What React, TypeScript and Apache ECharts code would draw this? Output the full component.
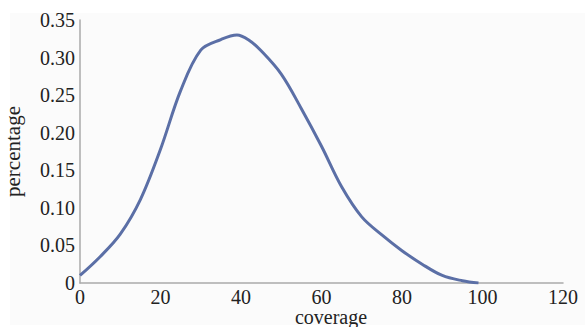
import React, { useEffect, useRef } from "react";
import * as echarts from "echarts";

const coverage = [0, 5, 10, 15, 20, 25, 30, 35, 39, 42, 45, 50, 55, 60, 65, 70, 75, 80, 85, 90, 95, 99];
const percentage = [0.010, 0.035, 0.065, 0.111, 0.178, 0.256, 0.310, 0.324, 0.330, 0.323, 0.309, 0.278, 0.232, 0.182, 0.128, 0.088, 0.064, 0.043, 0.025, 0.010, 0.003, 0.0];
const xTicks = [0, 20, 40, 60, 80, 100, 120];
const yTicks = [0, 0.05, 0.1, 0.15, 0.2, 0.25, 0.3, 0.35];
const xName = "coverage";
const yName = "percentage";

const FONT = "'Liberation Serif', 'Times New Roman', serif";

export default function App() {
  const ref = useRef<HTMLDivElement>(null);
  useEffect(() => {
    if (!ref.current) return;
    const chart = echarts.init(ref.current, undefined, { renderer: "svg" });
    const data = coverage.map((c, i) => [c, percentage[i]]);
    chart.setOption({
      animation: false,
      backgroundColor: "#ffffff",
      graphic: [
        {
          type: "rect",
          z: -10,
          silent: true,
          shape: { x: 10, y: 13, width: 575, height: 312 },
          style: { fill: "#fbfbfb" },
        },
        {
          type: "text",
          silent: true,
          x: 331,
          y: 317,
          style: {
            text: xName,
            font: `20px ${FONT}`,
            fill: "#222",
            lineHeight: 18,
            textAlign: "center",
            textVerticalAlign: "middle",
          },
        },
      ],
      grid: { left: 80, right: 22, top: 20, bottom: 44, outerBoundsMode: "none", containLabel: false },
      xAxis: {
        type: "value",
        min: xTicks[0],
        max: xTicks[xTicks.length - 1],
        interval: 20,
        axisLine: { show: true, lineStyle: { color: "#aaaaaa", width: 1.5 } },
        axisTick: { show: false },
        splitLine: { show: false },
        axisLabel: { fontFamily: FONT, fontSize: 20, lineHeight: 18, color: "#222", margin: 5 },
      },
      yAxis: {
        type: "value",
        min: yTicks[0],
        max: yTicks[yTicks.length - 1],
        interval: 0.05,
        name: yName,
        nameLocation: "middle",
        nameGap: 57,
        nameTextStyle: { fontFamily: FONT, fontSize: 21, color: "#222" },
        axisLine: { show: true, lineStyle: { color: "#aaaaaa", width: 1.5 } },
        axisTick: { show: false },
        splitLine: { show: false },
        axisLabel: {
          fontFamily: FONT,
          fontSize: 20,
          color: "#222",
          margin: 5,
          formatter: (v: number) => (v === 0 ? "0" : v.toFixed(2)),
        },
      },
      series: [
        {
          type: "line",
          data,
          smooth: 0.35,
          showSymbol: false,
          lineStyle: { color: "#5b6fa6", width: 3 },
        },
      ],
    });
    return () => chart.dispose();
  }, []);
  return <div ref={ref} style={{ width: 585, height: 327, position: "absolute", left: 0, top: 0 }} />;
}
